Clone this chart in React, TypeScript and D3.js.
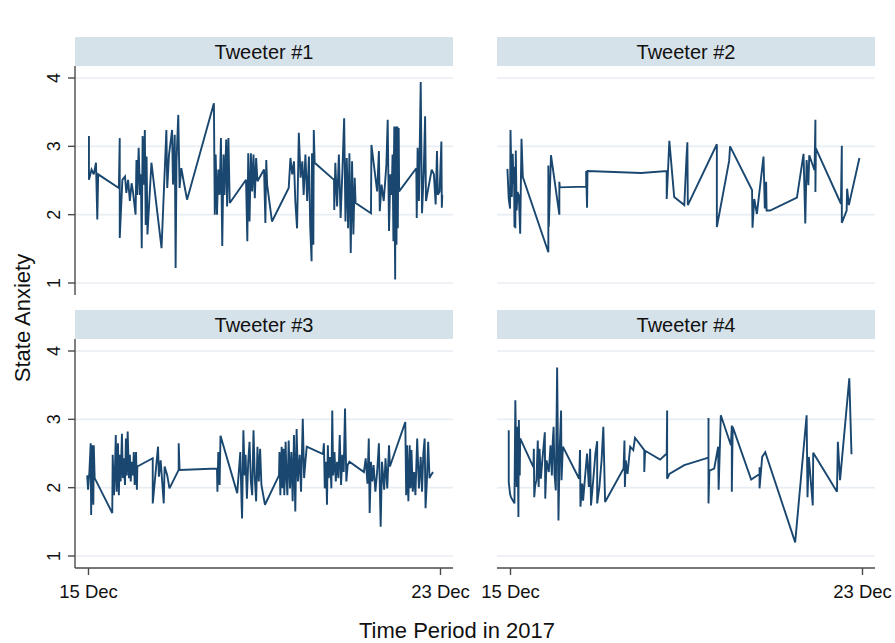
import React from "react";
import * as d3 from "d3";

// ---------- data (day offset from 15 Dec 2017, state anxiety) ----------
const panelTitles = ["Tweeter #1", "Tweeter #2", "Tweeter #3", "Tweeter #4"];
const yTickValues = [1, 2, 3, 4];
const xTickDays = [0, 8];
const yAxisTitle = "State Anxiety";
const xAxisTitle = "Time Period in 2017";

const tweeter1: [number, number][] = [
  [0.01,3.15],[0.01,2.51],[0.07,2.66],[0.12,2.59],[0.17,2.76],[0.20,1.93],[0.22,2.59],[0.69,2.39],[0.71,3.12],[0.71,1.66],
  [0.77,2.51],[0.83,2.56],[0.86,2.32],[0.90,2.51],[0.94,2.20],[0.98,2.46],[1.01,2.34],[1.07,2.00],[1.09,2.80],[1.11,2.29],
  [1.14,2.98],[1.17,2.29],[1.19,2.59],[1.21,1.51],[1.23,3.15],[1.26,2.44],[1.28,3.24],[1.30,1.85],[1.32,2.85],[1.34,1.71],
  [1.43,2.76],[1.66,1.51],[1.77,3.24],[1.79,2.39],[1.83,2.88],[1.90,3.24],[1.92,2.44],[1.96,3.17],[1.98,1.22],[2.00,2.78],
  [2.04,3.46],[2.07,2.39],[2.11,2.68],[2.17,2.46],[2.24,2.22],[2.85,3.63],[2.87,2.00],[2.89,2.88],[2.92,2.00],[2.95,2.66],
  [2.98,2.29],[3.01,3.12],[3.04,1.54],[3.07,2.88],[3.09,2.29],[3.13,3.10],[3.15,2.12],[3.18,3.12],[3.21,2.17],[3.58,2.51],
  [3.61,1.61],[3.63,2.90],[3.66,1.90],[3.69,2.90],[3.72,2.34],[3.75,2.88],[3.78,2.24],[3.81,2.83],[3.84,2.49],[3.99,2.66],
  [4.02,1.88],[4.04,2.80],[4.06,2.44],[4.17,1.90],[4.55,2.39],[4.59,2.83],[4.63,2.59],[4.67,2.78],[4.70,2.20],[4.74,1.80],
  [4.78,3.20],[4.82,2.54],[4.86,2.78],[4.89,2.29],[4.93,2.88],[4.97,2.20],[5.01,2.85],[5.04,1.80],[5.07,1.32],[5.08,2.90],
  [5.11,1.56],[5.12,3.24],[5.14,2.76],[5.58,2.51],[5.585,2.07],[5.61,2.76],[5.65,2.12],[5.69,2.88],[5.73,1.95],[5.77,2.63],
  [5.81,3.41],[5.84,1.90],[5.87,2.83],[5.90,1.80],[5.93,2.90],[5.96,1.44],[5.99,2.78],[6.02,1.71],[6.05,2.54],[6.07,2.17],
  [6.42,2.02],[6.43,3.02],[6.56,2.34],[6.60,2.93],[6.62,2.05],[6.66,2.44],[6.71,2.20],[6.77,2.73],[6.80,3.39],[6.83,1.76],
  [6.86,2.59],[6.89,2.29],[6.91,2.88],[6.93,1.61],[6.94,2.70],[6.95,3.29],[6.96,1.90],[6.97,1.05],[6.975,2.60],[6.98,3.29],
  [6.99,2.10],[7.00,1.56],[7.01,2.90],[7.02,3.29],[7.025,2.00],[7.03,1.80],[7.04,3.00],[7.05,3.27],[7.06,2.34],[7.45,2.68],
  [7.46,1.95],[7.48,2.98],[7.51,2.20],[7.55,3.94],[7.58,2.02],[7.62,2.63],[7.65,3.44],[7.67,2.20],[7.80,2.66],[7.85,2.59],
  [7.89,2.15],[7.92,2.93],[7.94,2.29],[7.98,2.34],[8.02,3.07],[8.03,2.10],[8.04,2.29],
];

const tweeter2: [number, number][] = [
  [-0.07,2.67],[-0.04,2.23],[-0.01,2.09],[0.00,3.24],[0.03,2.26],[0.05,2.89],[0.07,2.45],[0.08,2.67],[0.09,1.82],[0.10,2.70],
  [0.11,1.80],[0.12,2.94],[0.14,2.06],[0.16,2.33],[0.19,2.28],[0.22,1.72],[0.25,3.11],[0.28,2.55],[0.86,1.45],[0.86,2.72],
  [0.87,1.82],[0.92,2.87],[1.11,2.00],[1.11,2.48],[1.12,2.40],[1.72,2.41],[1.72,2.64],[1.74,2.10],[1.75,2.64],[2.97,2.61],
  [3.55,2.64],[3.55,2.23],[3.61,3.08],[3.72,2.26],[3.95,2.14],[4.00,2.84],[4.02,3.06],[4.03,2.14],[4.69,3.03],[4.69,1.82],
  [4.97,2.79],[4.99,3.00],[5.49,2.36],[5.50,1.81],[5.54,2.23],[5.60,2.01],[5.75,2.85],[5.78,2.09],[5.81,2.48],[5.82,2.06],
  [5.90,2.06],[6.51,2.25],[6.66,2.89],[6.70,1.87],[6.73,2.80],[6.77,2.43],[6.79,2.87],[6.91,2.65],[6.93,3.39],[6.93,2.33],
  [6.94,2.97],[7.51,2.16],[7.53,3.01],[7.53,1.88],[7.64,2.06],[7.65,2.38],[7.69,2.14],[7.93,2.83],
];

const tweeter3: [number, number][] = [
  [-0.03,2.18],[-0.01,1.97],[0.02,2.23],[0.05,2.65],[0.06,1.60],[0.08,2.62],[0.11,1.75],[0.12,2.62],[0.14,2.14],[0.54,1.63],
  [0.55,2.48],[0.58,1.89],[0.60,2.23],[0.62,2.77],[0.64,1.94],[0.67,2.65],[0.69,1.89],[0.71,2.48],[0.73,2.09],[0.76,2.79],
  [0.78,2.14],[0.80,2.43],[0.83,2.04],[0.85,2.72],[0.87,2.18],[0.89,2.82],[0.92,2.14],[0.94,2.48],[0.96,2.09],[0.98,2.38],
  [1.01,2.18],[1.03,2.52],[1.05,2.04],[1.08,2.52],[1.10,1.97],[1.11,2.31],[1.46,2.43],[1.46,1.77],[1.58,2.60],[1.60,2.16],
  [1.64,2.40],[1.71,1.77],[1.73,2.31],[1.79,2.18],[1.84,1.99],[2.05,2.26],[2.05,2.65],[2.07,2.26],[2.92,2.28],[2.93,1.94],
  [2.95,2.52],[2.98,2.04],[3.00,2.76],[3.38,1.92],[3.45,2.52],[3.48,1.75],[3.49,1.55],[3.52,2.84],[3.55,2.18],[3.57,2.48],
  [3.60,1.84],[3.63,2.38],[3.66,2.67],[3.69,2.09],[3.72,1.89],[3.75,2.84],[3.78,2.14],[3.81,1.80],[3.84,2.60],[3.87,2.09],
  [3.90,2.57],[3.93,2.04],[4.01,1.75],[4.33,2.18],[4.34,2.52],[4.36,1.89],[4.39,2.60],[4.41,1.99],[4.43,2.57],[4.45,1.89],
  [4.48,2.67],[4.50,2.14],[4.52,1.89],[4.55,2.69],[4.58,1.99],[4.61,2.52],[4.64,1.80],[4.67,2.77],[4.70,1.65],[4.73,2.86],
  [4.76,2.09],[4.80,2.48],[4.83,1.94],[4.87,3.01],[4.90,2.14],[4.93,2.38],[4.96,2.60],[5.33,2.49],[5.35,2.65],[5.37,1.99],
  [5.40,2.38],[5.42,1.75],[5.44,2.62],[5.46,2.14],[5.49,2.45],[5.52,1.99],[5.54,3.13],[5.56,2.18],[5.59,2.52],[5.62,2.09],
  [5.65,2.38],[5.68,2.14],[5.71,2.77],[5.74,2.04],[5.77,2.48],[5.80,2.23],[5.83,3.16],[5.86,2.09],[5.89,2.33],[5.93,2.38],
  [6.26,2.23],[6.30,2.43],[6.34,2.06],[6.37,2.72],[6.39,1.63],[6.42,2.38],[6.45,2.09],[6.48,2.33],[6.52,1.94],[6.56,2.23],
  [6.60,2.65],[6.62,2.04],[6.64,1.43],[6.67,2.38],[6.72,1.97],[6.75,2.43],[6.79,1.99],[6.83,2.62],[6.85,2.31],[7.20,2.96],
  [7.22,1.89],[7.24,2.62],[7.27,1.80],[7.30,2.62],[7.32,1.99],[7.34,2.55],[7.37,1.94],[7.40,2.23],[7.43,1.89],[7.47,2.72],
  [7.51,1.99],[7.55,2.45],[7.58,1.94],[7.61,2.50],[7.64,2.72],[7.66,1.70],[7.69,2.09],[7.72,2.67],[7.75,2.14],[7.78,2.18],
  [7.83,2.23],
];

const tweeter4: [number, number][] = [
  [-0.04,2.84],[-0.04,2.08],[-0.01,1.91],[0.01,1.86],[0.09,1.77],[0.11,3.28],[0.14,2.01],[0.16,2.89],[0.18,1.57],[0.19,2.99],
  [0.21,2.18],[0.22,2.72],[0.52,2.30],[0.53,2.57],[0.54,1.86],[0.56,2.03],[0.59,2.11],[0.62,2.69],[0.64,2.01],[0.66,2.57],
  [0.69,2.13],[0.73,2.45],[0.78,2.81],[0.79,1.84],[0.82,2.40],[0.87,2.23],[0.91,2.62],[0.94,2.18],[0.96,2.67],[0.98,2.89],
  [1.00,2.20],[1.03,1.96],[1.06,3.76],[1.08,2.40],[1.09,1.52],[1.12,2.60],[1.15,3.13],[1.16,2.11],[1.19,2.60],[1.56,2.13],
  [1.58,2.55],[1.59,1.72],[1.63,2.06],[1.65,1.81],[1.70,2.20],[1.74,2.50],[1.78,2.01],[1.81,2.57],[1.83,1.74],[1.88,2.11],
  [1.93,2.50],[1.97,2.68],[1.97,1.77],[2.02,2.01],[2.07,2.40],[2.11,2.89],[2.15,1.79],[2.57,2.28],[2.59,2.69],[2.60,2.01],
  [2.62,2.40],[2.66,2.20],[2.72,2.60],[2.79,2.55],[2.83,2.73],[3.04,2.55],[3.04,2.23],[3.06,2.54],[3.40,2.41],[3.55,2.50],
  [3.56,3.13],[3.56,2.13],[3.61,2.20],[3.95,2.33],[4.50,2.44],[4.50,3.02],[4.50,1.77],[4.52,2.25],[4.63,2.28],[4.72,2.60],
  [4.73,1.97],[4.78,3.06],[5.01,2.62],[5.03,2.91],[5.03,1.94],[5.05,2.89],[5.47,2.12],[5.66,2.20],[5.66,2.30],[5.66,1.99],
  [5.72,2.45],[5.79,2.52],[6.47,1.20],[6.73,3.06],[6.75,1.86],[6.78,2.45],[6.87,1.74],[6.88,2.51],[7.42,1.94],[7.44,2.67],
  [7.49,2.11],[7.70,3.60],[7.75,2.49],
];

const seriesList = [tweeter1, tweeter2, tweeter3, tweeter4];

// ---------- layout ----------
const W = 895;
const H = 643;
const PANEL_W = 378;
const STRIP_H = 29;
const PLOT_H = 229;
const panels = [
  { x: 75, y: 37, left: true, bottom: false },
  { x: 497, y: 37, left: false, bottom: false },
  { x: 75, y: 310, left: true, bottom: true },
  { x: 497, y: 310, left: false, bottom: true },
];

const startDate = new Date(2017, 11, 15);
const endDate = new Date(2017, 11, 23);
const dayToDate = (d: number) => new Date(startDate.getTime() + d * 86400000);
const fmt = d3.timeFormat("%-d %b");

const FONT = "'Liberation Sans', Arial, Helvetica, sans-serif";
const LINE_COLOR = "#1a476f";
const STRIP_FILL = "#d6e2e9";
const GRID = "#e8eef3";
const AXIS = "#4a4a4a";

function Panel({ idx }: { idx: number }) {
  const p = panels[idx];
  const top = p.y + STRIP_H;
  const bottom = top + PLOT_H;
  const x = d3.scaleTime().domain([startDate, endDate]).range([p.x + 13.5, p.x + 365.5]);
  const y = d3.scaleLinear().domain([1, 4]).range([top + 217, top + 12]);
  const line = d3
    .line<[number, number]>()
    .x((d) => x(dayToDate(d[0])))
    .y((d) => y(d[1]));
  return (
    <g>
      <rect x={p.x} y={p.y} width={PANEL_W} height={STRIP_H} fill={STRIP_FILL} />
      <text
        x={p.x + PANEL_W / 2}
        y={p.y + STRIP_H / 2 + 7}
        textAnchor="middle"
        fontSize={20}
        fontFamily={FONT}
        fill="#111"
      >
        {panelTitles[idx]}
      </text>
      {yTickValues.map((v) => (
        <line key={v} x1={p.x} x2={p.x + PANEL_W} y1={y(v)} y2={y(v)} stroke={GRID} strokeWidth={1.6} />
      ))}
      {p.left && (
        <g>
          <line x1={p.x} x2={p.x} y1={top} y2={bottom} stroke={AXIS} strokeWidth={1.4} />
          {yTickValues.map((v) => (
            <g key={v}>
              <line x1={p.x - 7} x2={p.x} y1={y(v)} y2={y(v)} stroke={AXIS} strokeWidth={1.4} />
              <text
                transform={`translate(${p.x - 15},${y(v)}) rotate(-90)`}
                textAnchor="middle"
                fontSize={18}
                fontFamily={FONT}
                fill="#111"
              >
                {v}
              </text>
            </g>
          ))}
        </g>
      )}
      {p.bottom && (
        <g>
          <line x1={p.x} x2={p.x + PANEL_W} y1={bottom} y2={bottom} stroke={AXIS} strokeWidth={1.4} />
          {xTickDays.map((d) => {
            const xx = x(dayToDate(d));
            return (
              <g key={d}>
                <line x1={xx} x2={xx} y1={bottom} y2={bottom + 7} stroke={AXIS} strokeWidth={1.4} />
                <text x={xx} y={bottom + 30} textAnchor="middle" fontSize={18.5} fontFamily={FONT} fill="#111">
                  {fmt(dayToDate(d))}
                </text>
              </g>
            );
          })}
        </g>
      )}
      <path
        d={line(seriesList[idx]) || ""}
        fill="none"
        stroke={LINE_COLOR}
        strokeWidth={1.9}
        strokeLinejoin="miter"
        strokeMiterlimit={3}
      />
    </g>
  );
}

export default function App() {
  return (
    <svg
      width={W}
      height={H}
      viewBox={`0 0 ${W} ${H}`}
      style={{ position: "absolute", left: 0, top: 0, background: "#fff" }}
    >
      <rect x={0} y={0} width={W} height={H} fill="#fff" />
      {panels.map((_, i) => (
        <Panel key={i} idx={i} />
      ))}
      <text
        transform="translate(30,318) rotate(-90)"
        textAnchor="middle"
        fontSize={22}
        fontFamily={FONT}
        fill="#111"
      >
        {yAxisTitle}
      </text>
      <text x={457} y={638} textAnchor="middle" fontSize={22} fontFamily={FONT} fill="#111">
        {xAxisTitle}
      </text>
    </svg>
  );
}
